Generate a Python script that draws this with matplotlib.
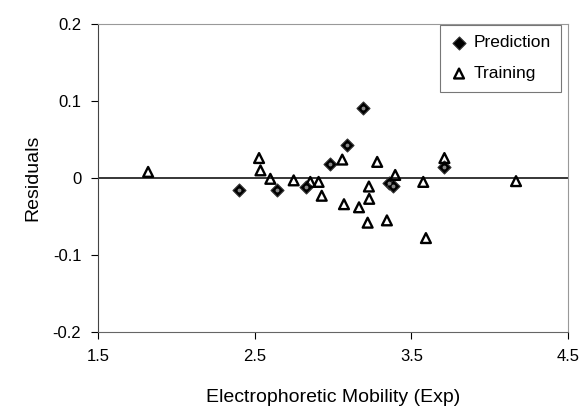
import matplotlib.pyplot as plt

plt.rcParams['font.family'] = ['Liberation Sans', 'DejaVu Sans']

# training set residuals
train_x = [1.82, 2.528, 2.537, 2.60, 2.749, 2.855, 2.908, 2.928, 3.059, 3.07,
           3.166, 3.221, 3.229, 3.231, 3.282, 3.344, 3.397, 3.576, 3.593, 3.711, 4.168]
train_y = [0.008, 0.026, 0.010, -0.001, -0.003, -0.005, -0.005, -0.023, 0.024, -0.034,
           -0.038, -0.058, -0.011, -0.027, 0.021, -0.055, 0.004, -0.005, -0.078, 0.026, -0.004]

# prediction set residuals
pred_x = [2.397, 2.643, 2.828, 2.981, 3.091, 3.193, 3.357, 3.384, 3.711]
pred_y = [-0.016, -0.016, -0.012, 0.018, 0.043, 0.091, -0.006, -0.010, 0.014]

xticks = [1.5, 2.5, 3.5, 4.5]
yticks = [-0.2, -0.1, 0, 0.1, 0.2]
ytick_labels = ['-0.2', '-0.1', '0', '0.1', '0.2']

fig = plt.figure(figsize=(5.85, 4.16), dpi=100)
ax = fig.add_axes([0.1675, 0.202, 0.8035, 0.740])

ax.axhline(0, color='black', lw=1.1, zorder=1)
ax.scatter(pred_x, pred_y, marker='D', s=44, facecolor='black', edgecolor='#333333',
           linewidths=0.8, label='Prediction', zorder=3)
ax.scatter(pred_x, pred_y, marker='o', s=3, color='#888888', zorder=4)
ax.scatter(train_x, train_y, marker='^', s=50, facecolor='none', edgecolor='black',
           linewidths=1.7, label='Training', zorder=3)

ax.set_xlim(1.5, 4.5)
ax.set_ylim(-0.2, 0.2)
ax.set_xticks(xticks)
ax.set_xticklabels([str(t) for t in xticks])
ax.set_yticks(yticks)
ax.set_yticklabels(ytick_labels)
ax.tick_params(labelsize=12, length=5, direction='out', width=0.8, pad=7)

for s in ['top', 'right']:
    ax.spines[s].set_color('#999999')
    ax.spines[s].set_linewidth(0.8)
ax.spines['left'].set_color('#444444')
ax.spines['bottom'].set_color('#666666')

ax.set_xlabel('Electrophoretic Mobility (Exp)', fontsize=14, labelpad=18)
ax.set_ylabel('Residuals', fontsize=14, labelpad=8)

leg = ax.legend(loc='upper right', bbox_to_anchor=(0.986, 0.998), fontsize=12.5,
                frameon=True, fancybox=False, edgecolor='#555555',
                handletextpad=0.35, borderpad=0.6, labelspacing=0.9,
                handlelength=1.0, borderaxespad=0)
leg.get_frame().set_linewidth(0.8)

fig.savefig('out.png', dpi=100)
